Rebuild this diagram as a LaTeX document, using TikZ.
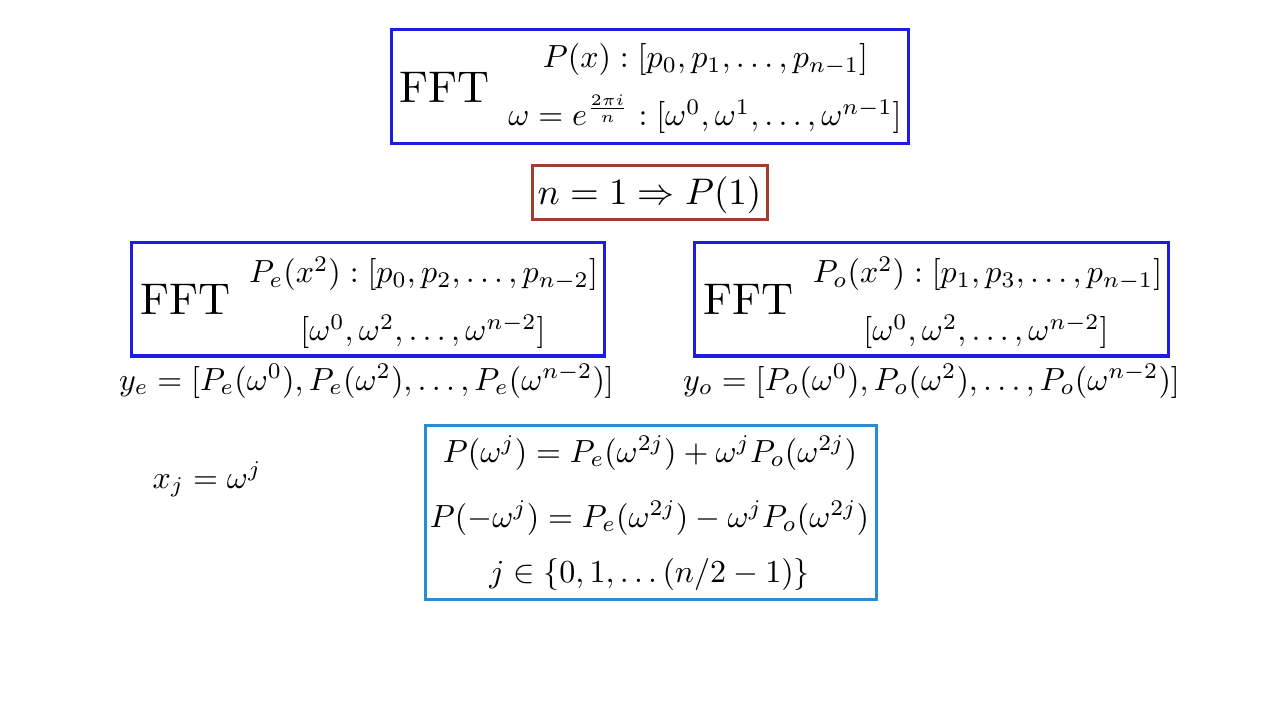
\documentclass[tikz,border=0pt]{standalone}
\usepackage{amsmath}
\usepackage{graphicx}
\definecolor{fftblue}{RGB}{28,28,228}
\definecolor{basebrown}{RGB}{155,65,45}
\definecolor{lightblue}{RGB}{40,140,215}
\newcommand{\mymath}[1]{\scalebox{3.2}{$#1$}}
\newcommand{\fftlabel}{\scalebox{4.44}{FFT}}
\tikzset{
  boxline/.style={draw, line width=3pt, inner sep=0pt},
  bluebox/.style={boxline, draw=fftblue},
  brownbox/.style={boxline, draw=basebrown},
  lbbox/.style={boxline, draw=lightblue},
  txt/.style={inner sep=0pt, anchor=base},
}
\begin{document}
\begin{tikzpicture}[x=1pt,y=-1pt]
\useasboundingbox (0,0) rectangle (1280,711);
\fill[white] (0,0) rectangle (1280,711);
% boxes
\node[bluebox, minimum width=517pt, minimum height=114pt] (top) at (649.5,87) {};
\node[brownbox, minimum width=235pt, minimum height=54pt] (base) at (649.5,193) {};
\node[bluebox, minimum width=473pt, minimum height=113pt] (left) at (367.5,299.5) {};
\node[bluebox, minimum width=474pt, minimum height=113pt] (right) at (931,299.5) {};
\node[lbbox, minimum width=451pt, minimum height=174pt] (bot) at (650.5,512) {};
% top box text
\node[txt] (fft0) at (445,103) {\fftlabel};
\node[txt] (px) at (705.5,68) {\mymath{P(x) : [p_0, p_1, \ldots, p_{n-1}]}};
\node[txt] (wx) at (705,126) {\mymath{\omega = e^{\frac{2\pi i}{n}} : [\omega^0, \omega^1, \ldots, \omega^{n-1}]}};
% base case
\node[txt] (bc) at (649.5,205) {\scalebox{3.7}{$n = 1 \Rightarrow P(1)$}};
% left box
\node[txt] (fft1) at (186,315) {\fftlabel};
\node[txt] (pe) at (423.5,283) {\mymath{P_e(x^2) : [p_0, p_2, \ldots, p_{n-2}]}};
\node[txt] (we) at (423,341) {\mymath{[\omega^0, \omega^2, \ldots, \omega^{n-2}]}};
\node[txt] (ye) at (366.5,390) {\mymath{y_e = [P_e(\omega^0), P_e(\omega^2), \ldots, P_e(\omega^{n-2})]}};
% right box
\node[txt] (fft2) at (749,315) {\fftlabel};
\node[txt] (po) at (987.5,283) {\mymath{P_o(x^2) : [p_1, p_3, \ldots, p_{n-1}]}};
\node[txt] (wo) at (986,341) {\mymath{[\omega^0, \omega^2, \ldots, \omega^{n-2}]}};
\node[txt] (yo) at (931.5,390) {\mymath{y_o = [P_o(\omega^0), P_o(\omega^2), \ldots, P_o(\omega^{n-2})]}};
% x_j
\node[txt] (xj) at (207,488) {\mymath{x_j = \omega^j}};
% bottom box
\node[txt] (eq1) at (650,462) {\mymath{P(\omega^j) = P_e(\omega^{2j}) + \omega^j P_o(\omega^{2j})}};
\node[txt] (eq2) at (649.5,527) {\mymath{P(-\omega^j) = P_e(\omega^{2j}) - \omega^j P_o(\omega^{2j})}};
\node[txt] (eq3) at (649.5,582) {\mymath{j \in \{0, 1, \ldots (n/2 - 1)\}}};
\end{tikzpicture}
\end{document}
